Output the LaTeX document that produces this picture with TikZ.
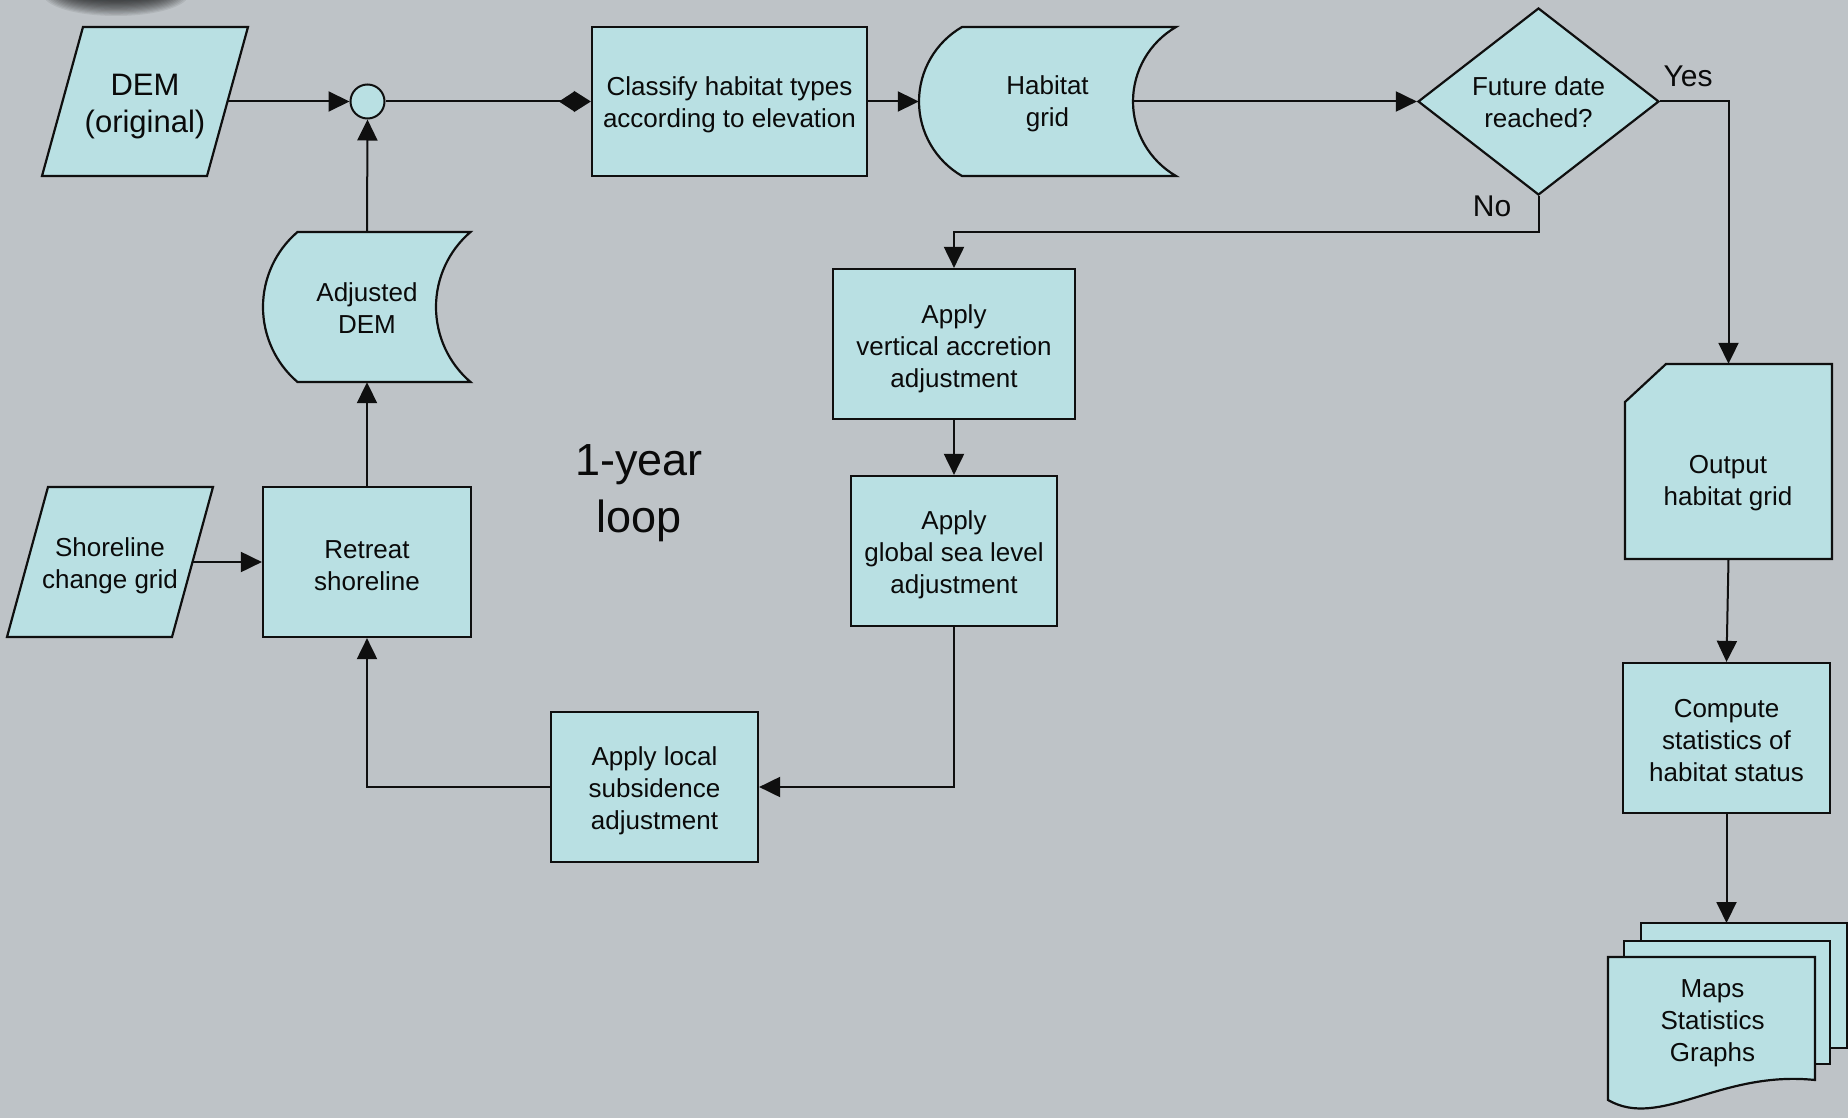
\documentclass[tikz,border=0pt]{standalone}
\usepackage{fontspec}
\setmainfont{Liberation Sans}
\usetikzlibrary{arrows.meta,shapes.geometric}
\definecolor{bgc}{RGB}{190,195,199}
\definecolor{boxc}{RGB}{185,224,227}
\definecolor{linec}{RGB}{15,15,15}
\definecolor{txtc}{RGB}{10,10,10}
\newcommand\myfs[2]{\fontsize{#1pt}{#2pt}\selectfont}
\begin{document}
\begin{tikzpicture}[x=1pt,y=-1pt,
  txt/.style={inner sep=0pt, align=center, text=txtc, font=\myfs{26}{32}},
  box/.style={draw=linec, fill=boxc, line width=2.2pt, inner sep=0pt},
  shp/.style={draw=linec, fill=boxc, line width=2.2pt, line join=miter},
  con/.style={draw=linec, line width=2pt},
  arr/.style={con, -{Triangle[length=21pt,width=20pt]}},
  dbl/.style={con, -{Triangle[reversed,sep=0pt,length=15pt,width=19pt]Triangle[sep=0pt,length=17pt,width=21pt]}},
  lbl/.style={txt, font=\myfs{30}{36}, anchor=base}]
\useasboundingbox (0,0) rectangle (1848,1118);
\clip (0,0) rectangle (1848,1118);
\fill[bgc] (0,0) rectangle (1848,1118);
\foreach \i in {0,...,15}
  \fill[black, opacity=0.07] (116,-6) ellipse [x radius={40pt+2.2pt*\i}, y radius={4pt+1.2pt*\i}];

% custom shapes
\draw[shp] (83,27) -- (248,27) -- (207,176) -- (42,176) -- cycle;
\draw[shp] (48,487) -- (213,487) -- (172,637) -- (7,637) -- cycle;
\draw[shp] (297.5,232) -- (470.5,232) .. controls (448.6,250.7) and (436,278.2) .. (436,307)
  .. controls (436,335.8) and (448.6,363.3) .. (470.5,382) -- (297.5,382)
  .. controls (275.6,363.3) and (263,335.8) .. (263,307)
  .. controls (263,278.2) and (275.6,250.7) .. (297.5,232) -- cycle;
\draw[shp] (962,27) -- (1176,27) .. controls (1149.4,42.4) and (1133,70.8) .. (1133,101.5)
  .. controls (1133,132.2) and (1149.4,160.6) .. (1176,176) -- (962,176)
  .. controls (935.4,160.6) and (919,132.2) .. (919,101.5)
  .. controls (919,70.8) and (935.4,42.4) .. (962,27) -- cycle;
\draw[shp] (1666,364) -- (1832,364) -- (1832,559) -- (1625,559) -- (1625,402) -- cycle;
\draw[shp] (1641,923) rectangle (1847,1048);
\draw[shp] (1624,941) rectangle (1830,1064);
\draw[shp] (1608,957) -- (1815,957) -- (1815,1080) .. controls (1720,1070) and (1660,1130) .. (1608,1100) -- cycle;

% shape nodes
\node[minimum width=165pt, minimum height=149pt, inner sep=0pt] (dem) at (145,101.5) {};
\node[circle, draw=linec, fill=boxc, line width=2pt, minimum size=34pt, inner sep=0pt] (circ) at (367.5,101.5) {};
\node[box, minimum width=275pt, minimum height=149pt] (cl) at (729.5,101.5) {};
\node[minimum width=257pt, minimum height=149pt, inner sep=0pt] (hg) at (1047.5,101.5) {};
\coordinate (hgout) at (1133,101.5);
\node[diamond, shape aspect=1.3, draw=linec, fill=boxc, line width=2.2pt, inner sep=0pt, minimum width=241pt, minimum height=187pt] (fd) at (1538.5,101.5) {};
\coordinate (nobend) at (1538.5,232);
\node[box, minimum width=242pt, minimum height=150pt] (va) at (954,344) {};
\node[box, minimum width=206pt, minimum height=150pt] (sl) at (954,551) {};
\node[box, minimum width=207pt, minimum height=150pt] (ls) at (654.5,787) {};
\node[box, minimum width=208pt, minimum height=150pt] (rt) at (367,562) {};
\node[minimum width=165pt, minimum height=150pt, inner sep=0pt] (scg) at (110,562) {};
\node[minimum width=207pt, minimum height=150pt, inner sep=0pt] (ad) at (367,307) {};
\node[minimum width=207pt, minimum height=195pt, inner sep=0pt] (out) at (1728.5,461.5) {};
\node[box, minimum width=207pt, minimum height=150pt] (cs) at (1726.5,738) {};
\node[minimum width=207pt, minimum height=143pt, inner sep=0pt] (md) at (1711.5,1028) {};
\coordinate (mdin) at (1726.5,923);

% texts
\node[txt, font=\myfs{31}{37}] (dem-t) at ([yshift=-4.7pt]dem.center) {DEM\\(original)};
\node[txt] (cl-t) at ([yshift=-3.5pt]cl.center) {Classify habitat types\\according to elevation};
\node[txt] (hg-t) at ([yshift=-2.4pt]hg.center) {Habitat\\grid};
\node[txt] (fd-t) at ([yshift=-1.2pt]fd.center) {Future date\\reached?};
\node[lbl] (yes) at (1688,87) {Yes};
\node[lbl] (no) at (1492,217) {No};
\node[txt] (va-t) at ([yshift=-4.5pt]va.center) {Apply\\vertical accretion\\adjustment};
\node[txt] (sl-t) at ([yshift=-3.5pt]sl.center) {Apply\\global sea level\\adjustment};
\node[txt] (ls-t) at ([yshift=-3.5pt]ls.center) {Apply local\\subsidence\\adjustment};
\node[txt] (rt-t) at ([yshift=-3.5pt]rt.center) {Retreat\\shoreline};
\node[txt] (scg-t) at ([yshift=-4pt]scg.center) {Shoreline\\change grid};
\node[txt] (ad-t) at ([yshift=-1.2pt]ad.center) {Adjusted\\DEM};
\node[txt, font=\myfs{45}{57}] (loop) at (639,493.5) {1-year\\loop};
\node[txt] (out-t) at (1728,483.5) {Output\\habitat grid};
\node[txt] (cs-t) at ([yshift=-2.4pt]cs.center) {Compute\\statistics of\\habitat status};
\node[txt] (md-t) at (1712.5,1023) {Maps\\Statistics\\Graphs};

% connectors
\draw[arr] (dem.east) -- (circ.west);
\draw[dbl] (circ.east) -- (cl.west);
\draw[arr] (cl.east) -- (hg.west);
\draw[arr] (hgout) -- (fd.west);
\draw[arr] (fd.east) -| (out.north);
\draw[arr] (fd.south) -- (nobend) -| (va.north);
\draw[arr] (va.south) -- (sl.north);
\draw[arr] (sl.south) |- (ls.east);
\draw[arr] (ls.west) -| (rt.south);
\draw[arr] (scg.east) -- (rt.west);
\draw[arr] (rt.north) -- (ad.south);
\draw[arr] (ad.north) -- (circ.south);
\draw[arr] (out.south) -- (cs.north);
\draw[arr] (cs.south) -- (mdin);
\end{tikzpicture}
\end{document}
